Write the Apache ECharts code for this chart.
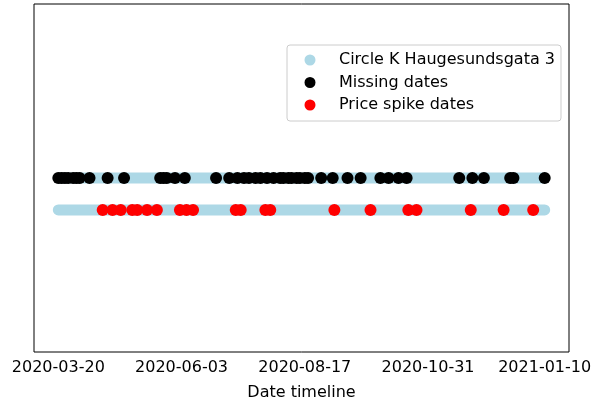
<!DOCTYPE html>
<html>
<head>
<meta charset="utf-8">
<script src="https://cdn.jsdelivr.net/npm/echarts@6/dist/echarts.min.js"></script>
<style>
  html, body { margin: 0; padding: 0; background: #fff; }
  #chart { width: 593px; height: 404px; }
</style>
</head>
<body>
<div id="chart"></div>
<script>
// Station timeline span
const stationName = 'Circle K Haugesundsgata 3';
const timelineStart = '2020-03-20';
const timelineEnd = '2021-01-10';

// Days without a recorded price
const missingDates = [
  '2020-03-20', '2020-03-22', '2020-03-24', '2020-03-26', '2020-03-29', '2020-03-31',
  '2020-04-02', '2020-04-08', '2020-04-19', '2020-04-29', '2020-05-21', '2020-05-23',
  '2020-05-25', '2020-05-30', '2020-06-05', '2020-06-24', '2020-07-02', '2020-07-07',
  '2020-07-11', '2020-07-14', '2020-07-18', '2020-07-21', '2020-07-25', '2020-07-29',
  '2020-08-02', '2020-08-04', '2020-08-07', '2020-08-09', '2020-08-12', '2020-08-14',
  '2020-08-17', '2020-08-19', '2020-08-27', '2020-09-03', '2020-09-12', '2020-09-20',
  '2020-10-02', '2020-10-07', '2020-10-13', '2020-10-18', '2020-11-19', '2020-11-27',
  '2020-12-04', '2020-12-20', '2020-12-22', '2021-01-10'
];

// Days with a price spike
const spikeDates = [
  '2020-04-16', '2020-04-22', '2020-04-27', '2020-05-04', '2020-05-07', '2020-05-13',
  '2020-05-19', '2020-06-02', '2020-06-06', '2020-06-10', '2020-07-06', '2020-07-09',
  '2020-07-24', '2020-07-27', '2020-09-04', '2020-09-26', '2020-10-19', '2020-10-24',
  '2020-11-26', '2020-12-16', '2021-01-03'
];

// Tick labels on the date axis
const tickDates = ['2020-03-20', '2020-06-03', '2020-08-17', '2020-10-31', '2021-01-10'];

// Row levels for the two timelines
const missingRow = 1;
const spikeRow = 0;

const ts = d => Date.parse(d + 'T00:00:00Z');
const fmt = v => new Date(v).toISOString().slice(0, 10);

const t0 = ts(timelineStart), t1 = ts(timelineEnd);
const pad = (t1 - t0) * 0.05;
const font = 'DejaVu Sans';

// Legend marker: a dot inside a wider, otherwise empty 39x11 box,
// so the label sits a little further from the dot.
const legendDot = 'path://M0,0L0,11M39,0L39,11M9.5,5.5a5.5,5.5 0 1,0 11,0a5.5,5.5 0 1,0 -11,0z';

const chart = echarts.init(document.getElementById('chart'));
chart.setOption({
  animation: false,
  grid: {
    left: 34, right: 24, top: 4, bottom: 52,
    outerBoundsMode: 'none',
    containLabel: false,
    show: true, borderColor: '#000', borderWidth: 1, backgroundColor: 'transparent'
  },
  xAxis: {
    type: 'value',
    min: t0 - pad,
    max: t1 + pad,
    axisLine: { show: false },
    splitLine: { show: false },
    axisTick: {
      show: true, length: 5, lineStyle: { color: '#000', width: 1 },
      customValues: tickDates.map(ts)
    },
    axisLabel: {
      customValues: tickDates.map(ts),
      formatter: v => fmt(v),
      color: '#000', fontFamily: font, fontSize: 16, margin: 8
    },
    name: 'Date timeline',
    nameLocation: 'middle',
    nameGap: 33,
    nameTextStyle: { color: '#000', fontFamily: font, fontSize: 16 }
  },
  yAxis: {
    type: 'value',
    min: -4.44,
    max: 6.4375,
    show: false
  },
  legend: {
    orient: 'vertical',
    left: 287,
    top: 45,
    padding: [6, 6, 7, 8],
    itemWidth: 39,
    itemHeight: 11,
    itemGap: 4.5,
    icon: legendDot,
    itemStyle: { borderWidth: 0 },
    backgroundColor: 'rgba(255,255,255,0.8)',
    borderColor: '#cccccc',
    borderWidth: 1,
    borderRadius: 3,
    textStyle: { color: '#000', fontFamily: font, fontSize: 16, lineHeight: 18 },
    data: [stationName, 'Missing dates', 'Price spike dates']
  },
  series: [
    {
      name: stationName, type: 'line', symbol: 'none', z: 1,
      data: [[t0, missingRow], [t1, missingRow]],
      itemStyle: { color: '#add8e6' },
      lineStyle: { color: '#add8e6', width: 11, cap: 'round' }
    },
    {
      name: stationName, type: 'line', symbol: 'none', z: 1,
      data: [[t0, spikeRow], [t1, spikeRow]],
      itemStyle: { color: '#add8e6' },
      lineStyle: { color: '#add8e6', width: 11, cap: 'round' }
    },
    {
      name: 'Missing dates', type: 'scatter', z: 3,
      symbol: 'circle', symbolSize: 12,
      itemStyle: { color: '#000', opacity: 1 },
      data: missingDates.map(d => [ts(d), missingRow])
    },
    {
      name: 'Price spike dates', type: 'scatter', z: 3,
      symbol: 'circle', symbolSize: 12,
      itemStyle: { color: '#ff0000', opacity: 1 },
      data: spikeDates.map(d => [ts(d), spikeRow])
    }
  ]
});
</script>
</body>
</html>
